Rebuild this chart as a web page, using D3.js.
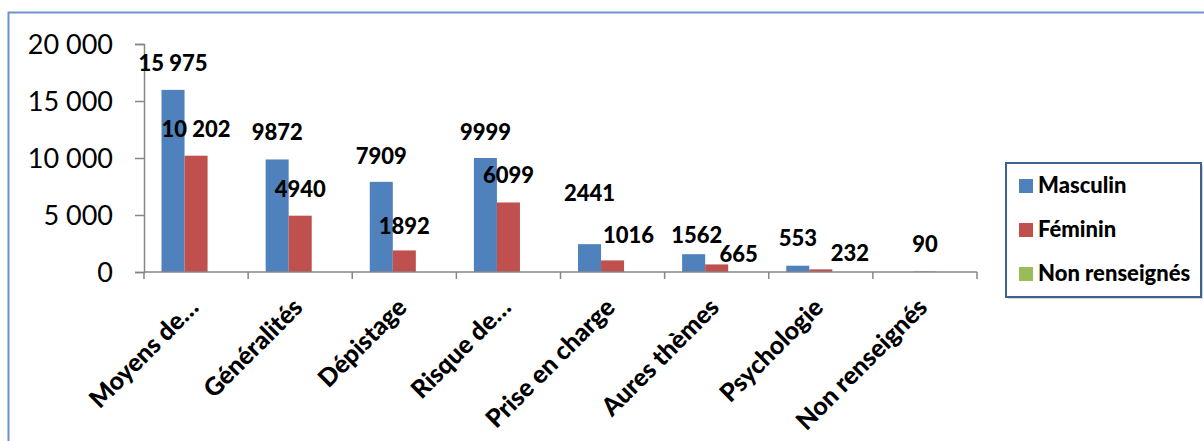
<!DOCTYPE html>
<html>
<head>
<meta charset="utf-8">
<script src="https://cdn.jsdelivr.net/npm/d3@7"></script>
<style>
  html, body { margin: 0; padding: 0; background: #ffffff; }
  svg { display: block; }
</style>
</head>
<body>
<script>
// ---- Data ----
const categories = ["Moyens de…", "Généralités", "Dépistage", "Risque de…", "Prise en charge", "Aures thèmes", "Psychologie", "Non renseignés"];
const seriesNames = ["Masculin", "Féminin", "Non renseignés"];
const masculin = [15975, 9872, 7909, 9999, 2441, 1562, 553, null];
const feminin = [10202, 4940, 1892, 6099, 1016, 665, 232, 90];
const nonRenseignes = [null, null, null, null, null, null, null, null];
const yTickValues = [0, 5000, 10000, 15000, 20000];

// manual label nudges (px), as placed in the original chart
const labelDx = [[0, 0, 0, 0, 0, 3, 0, 0], [0, 0, 0, 0, 16, 22, 29, 0], [0, 0, 0, 0, 0, 0, 0, 0]];
const labelDy = [[0, 0, 1, 1, -24, 8, -1, 0], [0, 0, 3, 0, 2, 17, 11, 0], [0, 0, 0, 0, 0, 0, 0, 0]];

const colors = ["#4f81bd", "#c0504d", "#9bbb59"];
const seriesValues = [masculin, feminin, nonRenseignes];

const W = 1204, H = 441;
const svg = d3.select("body").append("svg").attr("width", W).attr("height", H);

// outer chart border
svg.append("rect").attr("x", 8.5).attr("y", 12.5).attr("width", 1210).attr("height", 450)
  .attr("fill", "#fff").attr("stroke", "#6f92c9").attr("stroke-width", 2);

const x0 = d3.scaleBand().domain(categories).range([144, 977]).paddingInner(0).paddingOuter(0);
const x1 = d3.scaleBand().domain(seriesNames).range([0, x0.bandwidth()]).paddingInner(0).paddingOuter(0.76);
const y = d3.scaleLinear().domain([0, 20000]).range([272, 44]);

const spaceFmt = v => d3.format(",")(v).replace(/,/g, " ");
const labelFmt = v => v >= 10000 ? spaceFmt(v) : String(v);

// y axis
const yAxis = svg.append("g").attr("transform", "translate(144,0)")
  .call(d3.axisLeft(y).tickValues(yTickValues).tickFormat(spaceFmt).tickSize(9).tickPadding(22));
yAxis.select(".domain").attr("stroke", "#868686").attr("stroke-width", 1.5);
yAxis.selectAll(".tick line").attr("stroke", "#868686").attr("stroke-width", 1.5);
yAxis.selectAll(".tick text").attr("font-family", "Lato, sans-serif").attr("font-size", 27).attr("fill", "#000").attr("dy", "0.36em");

// bars
seriesValues.forEach((vals, si) => {
  svg.append("g").selectAll("rect").data(categories.map((c, i) => ({ c, v: vals[i], i })).filter(d => d.v != null))
    .join("rect")
    .attr("x", d => x0(d.c) + x1(seriesNames[si]))
    .attr("width", x1.bandwidth())
    .attr("y", d => y(d.v))
    .attr("height", d => y(0) - y(d.v))
    .attr("fill", colors[si])
    .attr("opacity", d => d.v < 200 ? 0.45 : 1);
});

// x axis
const xAxis = svg.append("g").attr("transform", "translate(0,272)");
xAxis.append("line").attr("x1", 144).attr("x2", 977).attr("y1", 0).attr("y2", 0)
  .attr("stroke", "#868686").attr("stroke-width", 1.5);
const xTicks = categories.map(c => x0(c)).concat([x0.range()[1]]);
xAxis.selectAll("line.t").data(xTicks).join("line").attr("class", "t")
  .attr("x1", d => d).attr("x2", d => d).attr("y1", 0).attr("y2", 7)
  .attr("stroke", "#868686").attr("stroke-width", 1.5);

// category labels
svg.append("g").selectAll("text").data(categories).join("text")
  .attr("transform", c => `translate(${x0(c) + x0.bandwidth() / 2 + 4},309) rotate(-45)`)
  .attr("text-anchor", "end")
  .attr("font-family", "Lato, sans-serif").attr("font-weight", "900").attr("font-size", 25)
  .attr("fill", "#000")
  .text(c => c);

// data labels
seriesValues.forEach((vals, si) => {
  svg.append("g").selectAll("text").data(categories.map((c, i) => ({ c, v: vals[i], i })).filter(d => d.v != null))
    .join("text")
    .attr("x", d => x0(d.c) + x1(seriesNames[si]) + x1.bandwidth() / 2 + labelDx[si][d.i])
    .attr("y", d => y(d.v) - 19 + labelDy[si][d.i])
    .attr("text-anchor", "middle")
    .attr("font-family", "Lato, sans-serif").attr("font-weight", "900").attr("font-size", 22)
    .attr("fill", "#000")
    .text(d => labelFmt(d.v));
});

// legend
const lg = svg.append("g");
lg.append("rect").attr("x", 1008).attr("y", 165).attr("width", 195).attr("height", 134).attr("fill", "#b8b8b8").attr("opacity", 0.6);
lg.append("rect").attr("x", 1006).attr("y", 163).attr("width", 195).attr("height", 134)
  .attr("fill", "#fff").attr("stroke", "#3d6290").attr("stroke-width", 2);
const rowY = [193, 237, 281];
seriesNames.forEach((s, i) => {
  lg.append("rect").attr("x", 1019).attr("y", rowY[i] - 14).attr("width", 14).attr("height", 14).attr("fill", colors[i]);
  lg.append("text").attr("x", 1038).attr("y", rowY[i])
    .attr("font-family", "Lato, sans-serif").attr("font-weight", "900").attr("font-size", 22)
    .attr("fill", "#000").text(s);
});
</script>
</body>
</html>
